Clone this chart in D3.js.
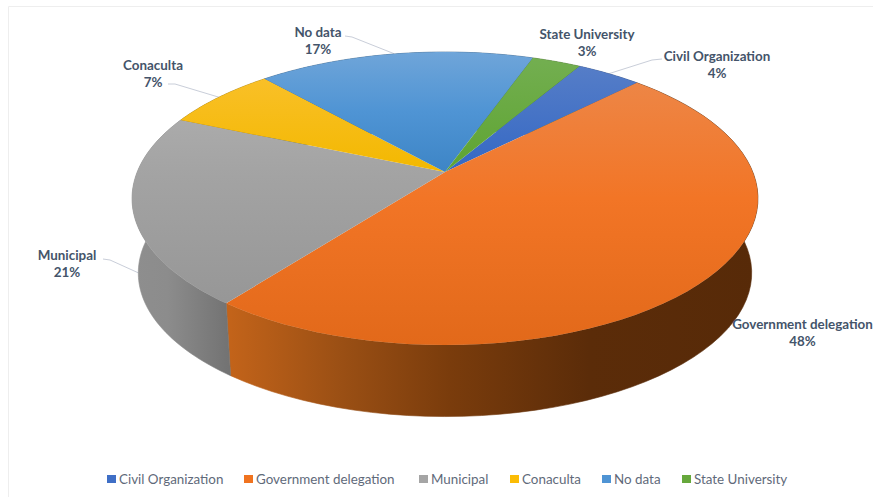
<!DOCTYPE html>
<html>
<head>
<meta charset="utf-8">
<style>
  html, body { margin: 0; padding: 0; background: #fff; overflow: hidden; }
  text { font-family: Lato, "Open Sans", sans-serif; }
</style>
<script src="https://cdn.jsdelivr.net/npm/d3@7/dist/d3.min.js"></script>
</head>
<body>
<svg id="chart" width="873" height="497"></svg>
<script>
// Share of venues by managing body, drawn as a tilted 3D pie.
const categories = ["Civil Organization", "Government delegation", "Municipal", "Conaculta", "No data", "State University"];
const shares = [4, 48, 21, 7, 17, 3];
const baseColors = ["#3f6fc6", "#f0731f", "#a5a5a5", "#fbbc05", "#4f94d4", "#66a83c"];

const svg = d3.select("#chart");
const defs = svg.append("defs");
const deg = Math.PI / 180;

// Perspective projection of the unit disc onto the page.
const hub = { x: 445, y: 172 };
const radiusX = 307.8, radiusY = 141.7, tilt = 0.181;
function rim(theta, drop = 0) {
  const w = 1 + tilt * Math.cos(theta);
  const shrink = 1 - 0.02 * drop;
  return [
    hub.x + shrink * radiusX * Math.sin(theta) / w,
    hub.y + 75 * drop - shrink * radiusY * Math.cos(theta) / w
  ];
}

const arcs = d3.pie().sort(null).value(d => d)
  .startAngle(30.3 * deg).endAngle(390.3 * deg)(shares);

const line = d3.line();
const arcSamples = a => d3.range(0, 61).map(i => a.startAngle + (a.endAngle - a.startAngle) * i / 60);

// Vertical shading of the top face, one gradient per slice colour.
const topShades = [
  ["#5a80c8", "#3468c4"],
  ["#ec8a4e", "#f27526", "#e2691a"],
  ["#b4b4b4", "#a3a3a3", "#979797"],
  ["#fbc233", "#f3b800"],
  ["#6fa5d9", "#4f94d4", "#3d85c6"],
  ["#74af52", "#5ea431"]
];
topShades.forEach((stops, i) => {
  const g = defs.append("linearGradient").attr("id", "top" + i)
    .attr("gradientUnits", "userSpaceOnUse")
    .attr("x1", 0).attr("x2", 0).attr("y1", 52).attr("y2", i === 1 ? 345 : (i === 2 ? 300 : 172));
  stops.forEach((c, k) => g.append("stop").attr("offset", k / (stops.length - 1)).attr("stop-color", c));
});

// Horizontal shading of the outer wall.
const wallGray = defs.append("linearGradient").attr("id", "wall2")
  .attr("gradientUnits", "userSpaceOnUse").attr("x1", 135).attr("x2", 228).attr("y1", 0).attr("y2", 0);
[["#8e8e8e", 0], ["#8c8c8c", 0.35], ["#737373", 1]].forEach(([c, o]) =>
  wallGray.append("stop").attr("offset", o).attr("stop-color", c));

const wallOrange = defs.append("linearGradient").attr("id", "wall1")
  .attr("gradientUnits", "userSpaceOnUse").attr("x1", 225).attr("x2", 760).attr("y1", 0).attr("y2", 0);
[["#c4641a", 0], ["#9a4f14", 0.22], ["#7a3c0c", 0.42], ["#5b2c09", 0.68], ["#572a08", 1]].forEach(([c, o]) =>
  wallOrange.append("stop").attr("offset", o).attr("stop-color", c));

// Frame of the chart area.
svg.append("path").attr("d", "M8.5,497V6.5H873").attr("fill", "none").attr("stroke", "#eeeeee");

// Data labels and their leader lines; the leaders run behind the pie body.
const labelCenters = [[717, 56], [802.5, 324], [67, 255], [153, 65], [318, 32], [587, 34]];
const leaderStarts = [[[662, 59], [652, 60]], [[730, 327], [723, 328]], [[103, 259], [110, 260]],
                      [[168, 84], [175, 84]], [[345, 36], [352, 37]], null];
const leaderDrop = [0, 0.85, 0.85, 0, 0, 0];

const leaders = svg.append("g").attr("fill", "none").attr("stroke", "#c9ced9").attr("stroke-width", 1);
arcs.forEach((a, i) => {
  if (!leaderStarts[i]) return;
  const mid = (a.startAngle + a.endAngle) / 2;
  leaders.append("path").attr("d", line(leaderStarts[i].concat([rim(mid, leaderDrop[i])])));
});

// Outer walls first; the top faces then cover whatever lies behind them.
const wallFill = (a, i) => (i === 1 || i === 2) ? `url(#wall${i})` : d3.color(baseColors[i]).darker(1.2);
svg.append("g").selectAll("path").data(arcs).join("path")
  .attr("d", a => {
    const t = arcSamples(a);
    return line(t.map(v => rim(v)).concat(t.slice().reverse().map(v => rim(v, 1)))) + "Z";
  })
  .attr("fill", wallFill).attr("stroke", wallFill).attr("stroke-width", 0.6);

svg.append("g").selectAll("path").data(arcs).join("path")
  .attr("d", a => line([[hub.x, hub.y]].concat(arcSamples(a).map(v => rim(v)))) + "Z")
  .attr("fill", (a, i) => `url(#top${i})`);

const labels = svg.append("g").attr("text-anchor", "middle").attr("fill", "#44546a")
  .attr("font-size", 13.4).attr("font-weight", 700);
categories.forEach((name, i) => {
  const [x, y] = labelCenters[i];
  labels.append("text").attr("x", x).attr("y", y).attr("dy", "0.35em").text(name);
  labels.append("text").attr("x", x).attr("y", y + 17.5).attr("dy", "0.35em").text(shares[i] + "%");
});

// Legend row along the bottom.
const legendSwatchX = [107, 244, 419, 510, 602, 682];
const legend = svg.append("g").selectAll("g").data(categories).join("g")
  .attr("transform", (d, i) => `translate(${legendSwatchX[i]},479)`);
legend.append("rect").attr("x", 0).attr("y", -4).attr("width", 9).attr("height", 8)
  .attr("fill", (d, i) => baseColors[i]);
legend.append("text").attr("x", 12).attr("dy", "0.35em")
  .attr("font-size", 13.4).attr("fill", "#5f6a7a").text(d => d);
</script>
</body>
</html>
